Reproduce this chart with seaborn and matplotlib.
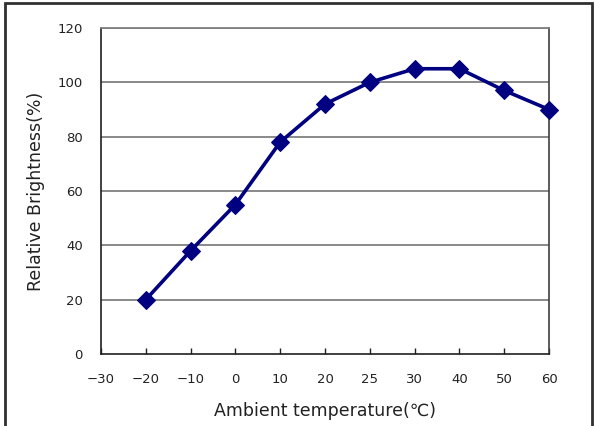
import matplotlib
matplotlib.use("Agg")
import matplotlib.pyplot as plt
import numpy as np
import pandas as pd
import seaborn as sns
from matplotlib.patches import Rectangle

# Axis categories (evenly spaced on the chart, even though 20 -> 25 -> 30 is not)
x_labels = [-30, -20, -10, 0, 10, 20, 25, 30, 40, 50, 60]
temps = [-20, -10, 0, 10, 20, 25, 30, 40, 50, 60]
brightness = [20, 38, 55, 78, 92, 100, 105, 105, 97, 90]
y_ticks = [0, 20, 40, 60, 80, 100, 120]

df = pd.DataFrame({'temp': temps, 'brightness': brightness})
df['pos'] = [x_labels.index(t) for t in df['temp']]

sns.set_theme(style="white")
plt.rcParams['font.family'] = ['DejaVu Sans', 'Noto Sans CJK KR']

fig = plt.figure(figsize=(5.95, 4.26), dpi=100)
ax = fig.add_axes([101 / 595, 1 - 354 / 426, (549 - 101) / 595, (354 - 28) / 426])

navy = '#000080'
sns.lineplot(data=df, x='pos', y='brightness', ax=ax, color=navy, linewidth=2.6,
             marker='D', markersize=9.5, markeredgecolor=navy, markerfacecolor=navy,
             clip_on=False, zorder=5)

ax.set_xlim(0, len(x_labels) - 1)
ax.set_ylim(0, 120)
ax.set_xticks(range(len(x_labels)))
ax.set_xticklabels(['\u2212' + str(-v) if v < 0 else str(v) for v in x_labels])
ax.set_yticks(y_ticks)

# horizontal gridlines only
for yv in y_ticks[1:]:
    ax.axhline(yv, color='#808080', linewidth=1.3, zorder=1)

for side in ['left', 'bottom']:
    ax.spines[side].set_color('#202020')
    ax.spines[side].set_linewidth(1.2)
ax.spines['top'].set_color('#808080')
ax.spines['top'].set_linewidth(1.3)
ax.spines['right'].set_color('#404040')
ax.spines['right'].set_linewidth(1.2)

ax.tick_params(axis='x', direction='in', length=4, width=1, color='#202020',
               bottom=True, labelsize=9.5, pad=14, labelcolor='#222222')
ax.tick_params(axis='y', length=0, labelsize=9.5, pad=13, labelcolor='#222222')

ax.set_xlabel('Ambient temperature(\u2103)', fontsize=12.5, color='#222222', labelpad=11)
ax.set_ylabel('Relative Brightness(%)', fontsize=12.5, color='#222222', labelpad=9)

# outer chart frame (bottom edge falls outside the image, as in the original)
fig.patches.append(Rectangle((5 / 595, -4 / 426), 587 / 595, 427 / 426,
                             transform=fig.transFigure, fill=False,
                             edgecolor='#303030', linewidth=2))

fig.savefig('out.png', dpi=100)
